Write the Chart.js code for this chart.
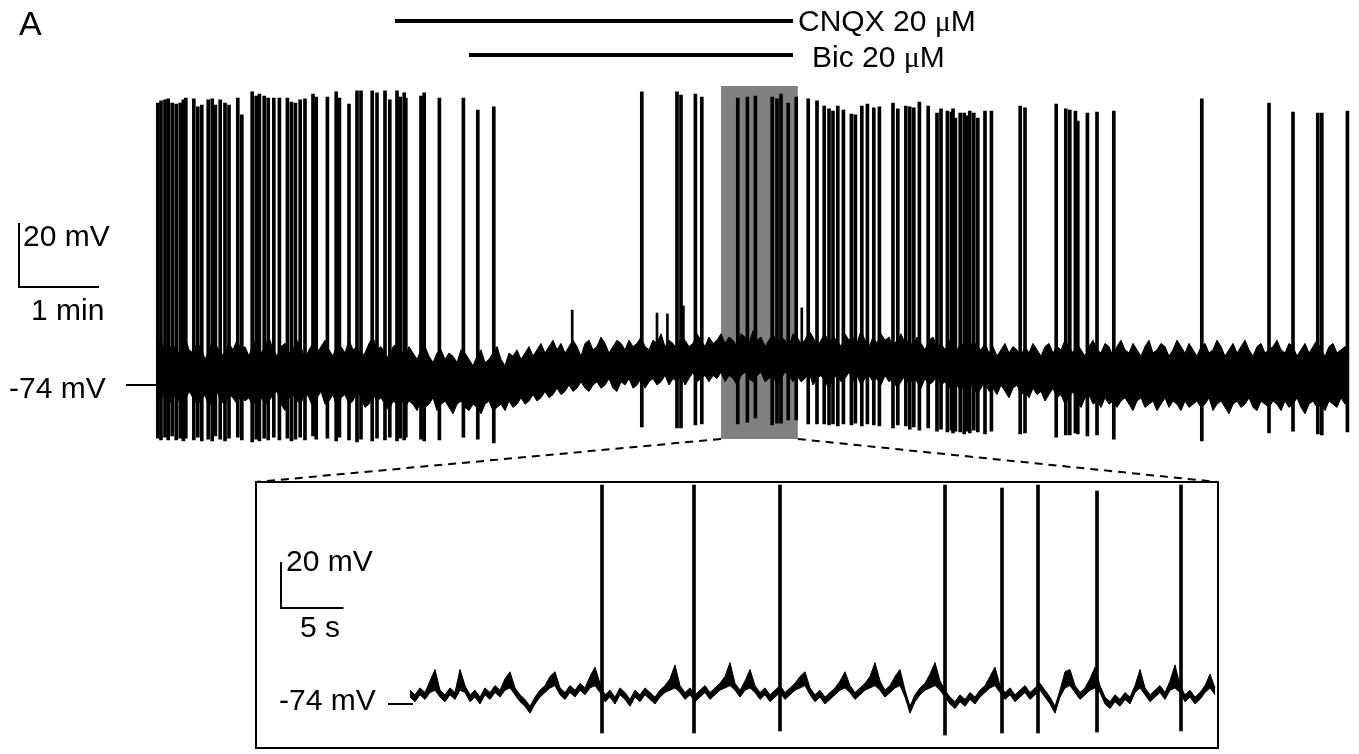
<!DOCTYPE html>
<html lang="en">
<head>
<meta charset="utf-8">
<title>CNQX / Bic – membrane potential</title>

<script src="https://cdn.jsdelivr.net/npm/chart.js"></script>

<style>
  body{margin:0;background:#fff;color:#000;font-family:"Liberation Sans",Arial,sans-serif}
  #wrap{position:relative;width:1359px;height:754px;overflow:hidden}
  #chart{position:absolute;left:0;top:0}
  .lbl{position:absolute;font-size:30px;line-height:1;white-space:nowrap}
  .mu{font-family:"Liberation Serif","DejaVu Serif",serif}
</style>
</head>
<body>

<div id="wrap">
  <canvas id="chart" width="1359" height="754"></canvas>
  <div class="lbl" style="left:19px;top:6px;font-size:34px">A</div>
  <div class="lbl" style="left:798px;top:6px">CNQX 20 <span class="mu">μ</span>M</div>
  <div class="lbl" style="left:812px;top:42px">Bic 20 <span class="mu">μ</span>M</div>
  <div class="lbl" style="left:23px;top:221px">20 mV</div>
  <div class="lbl" style="left:31px;top:295px">1 min</div>
  <div class="lbl" style="left:9px;top:373px">-74 mV</div>
  <div class="lbl" style="left:286px;top:546px">20 mV</div>
  <div class="lbl" style="left:300px;top:612px">5 s</div>
  <div class="lbl" style="left:279px;top:685px">-74 mV</div>
</div>

<script>
// overview trace: min on x, mV on y. Noise band sampled every 0.05 min
const noiseStep = 0.05;
const noiseHigh = [
  -62,-60,-64,-63,-61,-65,-62,-59,-63,-64,-61,-62,-66,-63,-60,-62,-64,-65,-61,-63,
  -60,-63,-62,-65,-61,-60,-64,-62,-59,-63,-65,-62,-61,-64,-63,-60,-62,-66,-63,-61,
  -64,-62,-60,-63,-65,-61,-62,-64,-60,-63,-62,-65,-64,-61,-59,-63,-62,-64,-66,-62,
  -61,-63,-65,-62,-64,-66,-63,-62,-65,-67,-64,-63,-66,-64,-65,-67,-63,-64,-66,-68,
  -65,-63,-67,-66,-64,-62,-66,-68,-64,-65,-63,-66,-64,-62,-65,-63,-61,-64,-62,-60,
  -63,-61,-64,-62,-60,-62,-65,-61,-60,-63,-62,-59,-61,-64,-62,-60,-61,-63,-60,-62,
  -61,-59,-62,-63,-60,-61,-58,-62,-60,-61,-63,-59,-60,-62,-61,-58,-60,-62,-59,-61,
  -60,-58,-61,-59,-60,-62,-58,-59,-61,-57,-60,-59,-62,-60,-58,-61,-59,-60,-62,-58,
  -59,-61,-60,-57,-59,-62,-60,-58,-61,-59,-60,-62,-58,-60,-59,-61,-57,-60,-62,-59,
  -61,-58,-60,-59,-62,-60,-58,-61,-60,-62,-59,-61,-63,-60,-59,-62,-61,-63,-60,-62,
  -63,-61,-62,-64,-60,-62,-63,-61,-64,-62,-65,-63,-61,-64,-62,-63,-65,-62,-64,-61,
  -63,-65,-62,-61,-64,-62,-63,-60,-62,-64,-61,-63,-65,-62,-60,-63,-64,-61,-62,-65,
  -62,-60,-63,-64,-61,-63,-65,-62,-60,-64,-63,-61,-62,-65,-63,-60,-62,-64,-61,-63,
  -65,-62,-61,-64,-63,-60,-62,-65,-63,-61,-64,-62,-60,-63,-65,-62,-61,-64,-63,-62,
  -60,-63,-64,-61,-62,-65,-63,-61,-64,-62,-60,-63,-65,-62,-61,-64,-63,-62,-64
];
const noiseLow = [
  -77,-79,-76,-80,-78,-77,-81,-79,-76,-78,-80,-79,-77,-81,-78,-76,-79,-80,-77,-78,
  -80,-77,-79,-78,-81,-76,-78,-80,-79,-77,-76,-80,-82,-78,-77,-79,-80,-76,-78,-81,
  -78,-76,-80,-79,-77,-81,-78,-77,-80,-79,-76,-78,-81,-80,-77,-79,-78,-80,-82,-79,
  -80,-78,-81,-79,-80,-82,-79,-81,-80,-78,-82,-80,-79,-81,-83,-80,-79,-81,-82,-80,
  -81,-83,-80,-79,-82,-81,-80,-82,-79,-81,-80,-78,-80,-79,-77,-79,-78,-76,-78,-77,
  -75,-77,-76,-74,-76,-75,-73,-75,-76,-74,-73,-75,-74,-72,-75,-76,-73,-74,-72,-75,
  -74,-72,-75,-73,-72,-74,-73,-71,-74,-72,-73,-71,-74,-72,-70,-73,-72,-71,-73,-71,
  -72,-70,-73,-71,-72,-74,-71,-70,-72,-73,-71,-70,-73,-72,-71,-74,-72,-70,-71,-73,
  -71,-73,-72,-70,-74,-72,-71,-73,-75,-72,-71,-73,-72,-70,-73,-71,-74,-72,-71,-73,
  -72,-74,-71,-73,-72,-75,-73,-71,-74,-72,-73,-75,-72,-74,-73,-71,-74,-73,-75,-72,
  -74,-76,-73,-75,-74,-77,-75,-73,-76,-75,-77,-74,-76,-78,-75,-74,-77,-76,-78,-75,
  -77,-76,-79,-77,-75,-78,-77,-80,-78,-76,-79,-81,-78,-77,-80,-79,-81,-78,-80,-79,
  -81,-79,-78,-80,-82,-79,-78,-81,-80,-79,-82,-80,-78,-81,-79,-80,-82,-79,-81,-80,
  -79,-81,-80,-78,-82,-80,-79,-81,-83,-80,-79,-81,-80,-78,-81,-82,-79,-80,-81,-79,
  -80,-82,-79,-81,-80,-78,-81,-83,-80,-79,-81,-80,-82,-79,-80,-81,-78,-80,-79
];

// action potentials (min, mV)
const spikeTimes = [
  0.01,0.05,0.10,0.14,0.19,0.24,0.29,0.33,0.36,0.46,0.51,0.56,0.64,0.69,0.73,0.79,0.85,0.90,
  1.01,1.06,1.19,1.24,1.28,1.34,1.39,1.46,1.53,1.63,1.68,1.73,1.79,1.85,1.95,1.99,
  2.13,2.24,2.28,2.40,2.50,2.55,2.69,2.75,2.85,2.91,3.00,3.04,3.09,3.11,3.30,3.34,3.53,3.83,
  4.01,4.21,6.06,6.50,6.55,6.73,6.81,
  7.26,7.38,7.48,7.69,7.75,7.80,7.89,7.99,
  8.14,8.25,8.34,8.40,8.45,8.51,8.58,8.68,8.73,8.81,8.88,8.96,9.03,9.20,9.26,9.36,9.41,9.46,
  9.53,9.64,9.75,9.80,9.88,9.93,9.95,9.98,10.04,10.09,10.13,10.16,10.21,10.26,10.35,10.43,
  10.79,10.85,11.24,11.36,11.41,11.48,11.51,11.63,11.75,11.96,13.06,13.90,14.20,14.51,14.56,14.88
];
const spikePeaks = [
  14.1,14.8,15.1,15.4,14.1,13.8,14.1,15.1,15.7,15.4,12.9,13.5,15.1,15.4,13.5,15.1,14.1,13.5,
  15.7,10.4,17.6,16.3,16.9,16.3,15.7,15.7,15.7,15.7,14.4,14.1,15.1,15.4,16.9,16.0,
  16.0,17.6,15.7,13.8,17.9,17.9,17.9,17.3,17.9,15.1,17.9,16.0,17.3,15.7,16.3,17.3,15.7,15.7,
  11.9,12.9,17.6,17.6,16.6,16.9,16.0,
  15.7,16.0,16.3,16.0,15.4,16.9,14.1,16.0,
  15.4,14.8,13.2,12.3,11.6,13.2,11.9,10.7,10.4,13.2,13.8,12.6,12.9,14.1,12.3,13.2,12.9,12.6,
  14.4,13.2,11.0,12.3,11.6,11.3,12.3,9.4,11.0,11.0,10.1,11.6,11.0,9.4,11.6,11.6,
  13.2,12.6,13.8,12.3,11.9,11.6,8.5,11.0,11.3,11.6,15.4,14.1,11.3,11.0,11.0,11.6
];
const spikeTroughs = [
  -90.6,-91.2,-90.3,-91.2,-89.9,-91.2,-90.6,-91.5,-90.6,-91.2,-90.3,-91.5,-90.9,-91.5,-89.9,-90.9,-91.5,-90.6,
  -90.3,-91.2,-91.8,-90.9,-91.5,-90.6,-91.2,-90.3,-91.2,-90.6,-91.5,-90.9,-90.3,-91.2,-89.9,-90.9,
  -90.6,-91.5,-90.3,-91.2,-91.8,-90.9,-91.5,-90.6,-91.2,-90.3,-91.5,-90.6,-91.2,-90.3,-90.9,-91.5,-91.2,-90.3,
  -90.9,-92.1,-87.1,-87.4,-87.4,-86.5,-86.2,
  -86.2,-85.6,-84.3,-86.5,-85.9,-85.9,-84.9,-84.9,
  -86.2,-86.2,-86.2,-86.5,-86.2,-86.8,-86.2,-86.5,-85.9,-86.8,-86.2,-86.5,-86.8,-87.4,-86.5,-86.8,-87.8,-87.1,
  -88.1,-87.4,-88.4,-87.8,-88.7,-88.1,-89.0,-88.4,-88.7,-89.3,-88.4,-89.0,-88.1,-88.7,-89.3,-88.4,
  -89.3,-89.0,-90.3,-89.6,-89.6,-89.0,-89.3,-89.9,-89.6,-90.9,-91.5,-89.0,-88.4,-89.3,-89.6,-88.7
];

// small synaptic events rising out of the noise
const eventTimes = [5.19, 6.25, 6.38, 6.58, 8.06];
const eventPeaks = [-50.6, -51.5, -51.8, -49.3, -49.9];
const eventBase = -64;

// drug application bars (min)
const drugStart = [2.975, 3.9];
const drugEnd = [7.95, 7.95];

// stretch shown enlarged below (min)
const zoomWindow = [7.05, 8.01];

// inset trace: s on x, upper/lower edge sampled every 0.4 s
const insetStep = 0.4;
const insetHigh = [
  -68,-70,-67,-69,-64,-59,-68,-70,-67,-69,-59,-66,-70,-68,-71,-67,-69,-66,-68,-63,
  -60,-67,-70,-72,-75,-71,-68,-66,-62,-60,-67,-69,-66,-68,-65,-67,-62,-58,-65,-70,
  -68,-71,-67,-69,-72,-68,-70,-67,-69,-71,-68,-66,-63,-57,-66,-69,-67,-70,-68,-66,
  -69,-67,-65,-62,-56,-65,-68,-64,-59,-66,-69,-67,-70,-68,-66,-69,-67,-65,-62,-60,
  -67,-70,-68,-71,-69,-67,-64,-60,-66,-69,-67,-65,-62,-56,-64,-68,-66,-62,-59,-68,
  -75,-70,-67,-65,-61,-56,-64,-68,-71,-73,-70,-72,-69,-71,-68,-66,-62,-58,-66,-69,
  -67,-70,-68,-66,-69,-67,-65,-68,-71,-75,-68,-60,-59,-66,-69,-67,-63,-58,-66,-71,
  -73,-70,-72,-69,-71,-66,-59,-67,-70,-68,-66,-69,-64,-57,-66,-70,-68,-71,-69,-66,
  -61,-67
];
const insetLow = [
  -71,-73,-70,-72,-69,-68,-71,-73,-70,-72,-68,-69,-73,-71,-74,-70,-72,-69,-71,-68,
  -67,-70,-73,-75,-78,-74,-71,-69,-67,-66,-70,-72,-69,-71,-68,-70,-67,-66,-69,-73,
  -71,-74,-70,-72,-75,-71,-73,-70,-72,-74,-71,-69,-68,-67,-69,-72,-70,-73,-71,-69,
  -72,-70,-68,-67,-66,-68,-71,-68,-67,-69,-72,-70,-73,-71,-69,-72,-70,-68,-67,-66,
  -70,-73,-71,-74,-72,-70,-68,-67,-69,-72,-70,-68,-67,-66,-68,-71,-69,-67,-66,-71,
  -78,-73,-70,-68,-67,-66,-68,-71,-74,-76,-73,-75,-72,-74,-71,-69,-67,-66,-69,-72,
  -70,-73,-71,-69,-72,-70,-68,-71,-74,-78,-71,-67,-66,-69,-72,-70,-68,-67,-69,-74,
  -76,-73,-75,-72,-74,-69,-67,-70,-73,-71,-69,-72,-68,-67,-69,-73,-71,-74,-72,-69,
  -67,-70
];
const insetSpikeTimes = [15.36, 22.72, 29.6, 42.8, 47.36, 50.24, 54.96, 61.68];
const insetSpikePeaks = [21.2, 21.2, 21.2, 21.2, 19.9, 21.2, 18.6, 21.2];
const insetSpikeTroughs = [-86.6, -86.6, -85.7, -87.5, -86.6, -86.6, -86.2, -85.7];

const restMv = -74;

// page geometry: every scale spans the whole canvas
const W = 1359, H = 754;
const pxPerMin = 80, x0Top = 157;      // overview time origin
const pxPerMvTop = 3.2, yRestTop = 385;
const pxPerSec = 12.5, x0Inset = 410;  // inset time origin
const pxPerMvInset = 2.3, yRestInset = 704;
const frame = {l: 256, t: 482, r: 1218, b: 748};

const series = (arr, step) => arr.map((v, i) => ({x: i * step, y: v}));
const bars = (t, lo, hi) => t.map((v, i) => ({x: v, y: [lo[i], hi[i]]}));
const edge = {type: 'line', borderColor: '#000', borderWidth: 1, pointRadius: 0, tension: 0};

const decor = {
  id: 'decor',
  beforeDatasetsDraw(c) {
    const {ctx} = c, x = c.scales.x;
    const l = x.getPixelForValue(zoomWindow[0]), r = x.getPixelForValue(zoomWindow[1]);
    ctx.save();
    ctx.fillStyle = '#808080';
    ctx.fillRect(l, 86, r - l, 353);
    ctx.restore();
  },
  afterDatasetsDraw(c) {
    const {ctx} = c, {x, y, x2, y2} = c.scales;
    ctx.save();
    ctx.strokeStyle = '#000';
    ctx.lineCap = 'butt';

    // drug bars
    ctx.lineWidth = 4;
    [21, 55].forEach((yy, i) => {
      ctx.beginPath();
      ctx.moveTo(x.getPixelForValue(drugStart[i]), yy);
      ctx.lineTo(x.getPixelForValue(drugEnd[i]), yy);
      ctx.stroke();
    });

    // scale bars
    ctx.lineWidth = 2;
    const sb = (cx, cy, w, h) => {
      ctx.beginPath();
      ctx.moveTo(cx, cy - h);
      ctx.lineTo(cx, cy);
      ctx.lineTo(cx + w, cy);
      ctx.stroke();
    };
    sb(19, 287, x.getPixelForValue(1) - x.getPixelForValue(0), y.getPixelForValue(0) - y.getPixelForValue(20));
    sb(281, 608, x2.getPixelForValue(5) - x2.getPixelForValue(0), y2.getPixelForValue(0) - y2.getPixelForValue(20));

    // resting potential ticks
    ctx.beginPath();
    ctx.moveTo(126, y.getPixelForValue(restMv));
    ctx.lineTo(x0Top, y.getPixelForValue(restMv));
    ctx.moveTo(388, y2.getPixelForValue(restMv));
    ctx.lineTo(x0Inset + 3, y2.getPixelForValue(restMv));
    ctx.stroke();

    // inset frame
    ctx.strokeRect(frame.l, frame.t, frame.r - frame.l, frame.b - frame.t);

    // dashed zoom guides
    const l = x.getPixelForValue(zoomWindow[0]), r = x.getPixelForValue(zoomWindow[1]);
    ctx.setLineDash([8, 6]);
    ctx.beginPath();
    ctx.moveTo(l, 439); ctx.lineTo(frame.l, frame.t);
    ctx.moveTo(r, 439); ctx.lineTo(frame.r, frame.t);
    ctx.stroke();
    ctx.restore();
  }
};

new Chart(document.getElementById('chart'), {
  type: 'bar',
  data: {
    datasets: [
      { ...edge, label: 'noise high', data: series(noiseHigh, noiseStep), fill: false },
      { ...edge, label: 'noise low', data: series(noiseLow, noiseStep), fill: '-1', backgroundColor: '#000' },
      {
        label: 'spikes', data: bars(spikeTimes, spikeTroughs, spikePeaks),
        backgroundColor: '#000', barThickness: 3, grouped: false
      },
      {
        label: 'events', data: eventTimes.map((t, i) => ({x: t, y: [eventBase, eventPeaks[i]]})),
        backgroundColor: '#000', barThickness: 2, grouped: false
      },
      { ...edge, label: 'inset high', xAxisID: 'x2', yAxisID: 'y2',
        data: series(insetHigh, insetStep), fill: false },
      { ...edge, label: 'inset low', xAxisID: 'x2', yAxisID: 'y2',
        data: series(insetLow, insetStep), fill: '-1', backgroundColor: '#000' },
      {
        label: 'inset spikes', xAxisID: 'x2', yAxisID: 'y2',
        data: bars(insetSpikeTimes, insetSpikeTroughs, insetSpikePeaks),
        backgroundColor: '#000', barThickness: 3, grouped: false
      }
    ]
  },
  options: {
    responsive: false,
    animation: false,
    layout: { padding: 0 },
    plugins: {
      legend: { display: false },
      tooltip: { enabled: false }
    },
    scales: {
      x: { type: 'linear', display: false, offset: false,
           min: -x0Top / pxPerMin, max: (W - x0Top) / pxPerMin },
      y: { display: false,
           min: restMv - (H - yRestTop) / pxPerMvTop, max: restMv + yRestTop / pxPerMvTop },
      x2: { type: 'linear', display: false, offset: false,
            min: -x0Inset / pxPerSec, max: (W - x0Inset) / pxPerSec },
      y2: { display: false,
            min: restMv - (H - yRestInset) / pxPerMvInset, max: restMv + yRestInset / pxPerMvInset }
    }
  },
  plugins: [decor]
});
</script>

</body>
</html>
